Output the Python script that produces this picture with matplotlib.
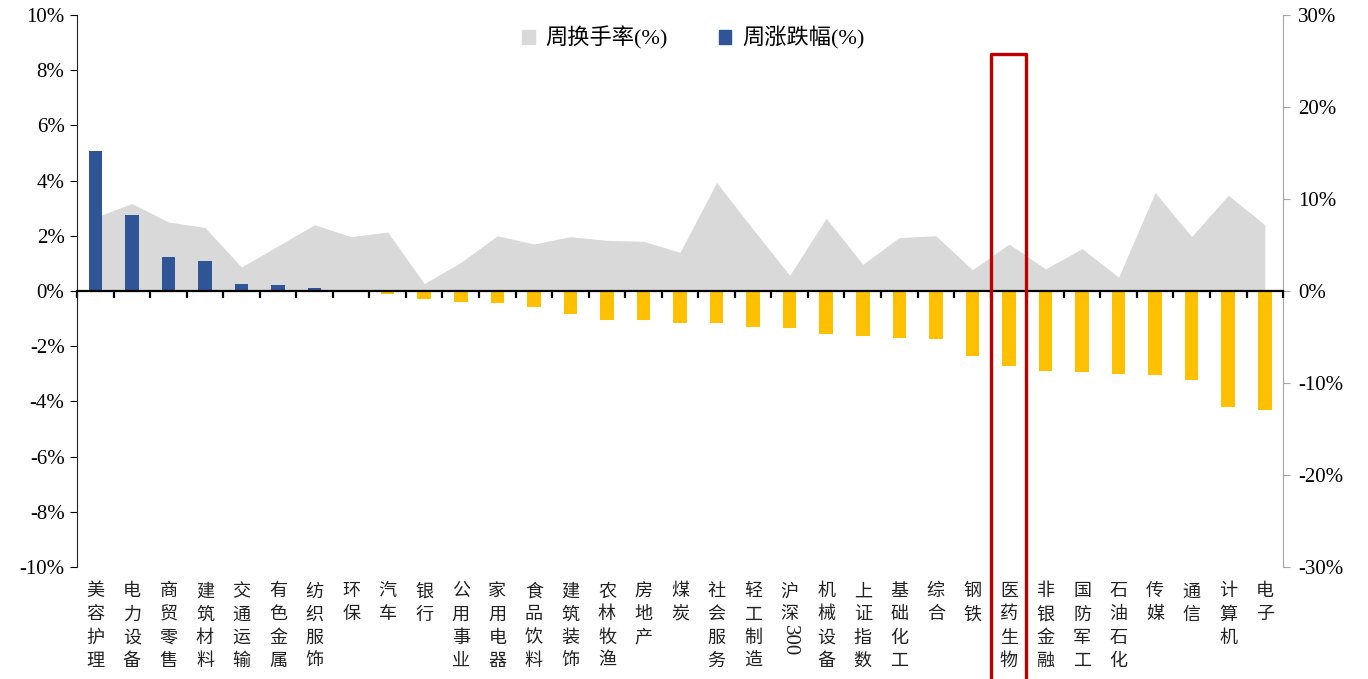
import numpy as np
import matplotlib.pyplot as plt
from matplotlib.patches import Patch, Rectangle
from matplotlib.ticker import FuncFormatter, FixedLocator

plt.rcParams["font.family"] = ["Liberation Serif", "Noto Sans CJK SC"]

# ── Data ────────────────────────────────────────────────────────────────
sectors = ["美容护理", "电力设备", "商贸零售", "建筑材料", "交通运输", "有色金属",
           "纺织服饰", "环保", "汽车", "银行", "公用事业", "家用电器", "食品饮料",
           "建筑装饰", "农林牧渔", "房地产", "煤炭", "社会服务", "轻工制造",
           "沪深300", "机械设备", "上证指数", "基础化工", "综合", "钢铁",
           "医药生物", "非银金融", "国防军工", "石油石化", "传媒", "通信",
           "计算机", "电子"]

# weekly change (%), left axis
weekly_change = [5.07, 2.74, 1.24, 1.09, 0.24, 0.20, 0.12, -0.01, -0.12, -0.30,
                 -0.40, -0.45, -0.58, -0.84, -1.07, -1.07, -1.15, -1.16, -1.30,
                 -1.35, -1.57, -1.62, -1.69, -1.75, -2.37, -2.71, -2.90, -2.95,
                 -3.00, -3.03, -3.21, -4.22, -4.32]

# weekly turnover (%), right axis
weekly_turnover = [8.0, 9.5, 7.5, 6.9, 2.6, 4.9, 7.2, 5.9, 6.4, 0.8, 3.1, 6.0,
                   5.1, 5.9, 5.5, 5.4, 4.2, 11.8, 6.7, 1.7, 7.9, 2.9, 5.8, 6.0,
                   2.3, 5.1, 2.4, 4.6, 1.5, 10.7, 5.9, 10.4, 7.2]

highlight = "医药生物"

C_UP = "#2F5597"
C_DOWN = "#FFC000"
C_AREA = "#D9D9D9"
C_BOX = "#C00000"

x = np.arange(len(sectors))
fig = plt.figure(figsize=(13.68, 6.79), dpi=100)
ax = fig.add_axes([0.0563, 0.165, 0.8816, 0.813])
ax2 = ax.twinx()
ax.set_zorder(ax2.get_zorder() + 1)
ax.patch.set_visible(False)

# ── Turnover area (right axis) ──────────────────────────────────────────
ax2.fill_between(x, 0, weekly_turnover, color=C_AREA, linewidth=0)
ax2.set_ylim(-30, 30)
ax2.set_yticks(np.arange(-30, 31, 10))
ax2.yaxis.set_major_formatter(FuncFormatter(lambda v, p: f"{v:.0f}%"))
ax2.tick_params(axis="y", direction="out", length=5, color="#A6A6A6",
                labelsize=15, pad=6)
for s in ["top", "left", "bottom"]:
    ax2.spines[s].set_visible(False)
ax2.spines["right"].set_color("#A6A6A6")

# ── Weekly change bars (left axis) ──────────────────────────────────────
colors = [C_UP if v >= 0 else C_DOWN for v in weekly_change]
ax.bar(x, weekly_change, width=0.37, color=colors, zorder=3)
ax.set_ylim(-10, 10)
ax.set_xlim(-0.5, len(sectors) - 0.5)
ax.set_yticks(np.arange(-10, 11, 2))
ax.yaxis.set_major_formatter(FuncFormatter(lambda v, p: f"{v:.0f}%"))
ax.tick_params(axis="y", direction="out", length=5, labelsize=15, pad=4)
for s in ["top", "right"]:
    ax.spines[s].set_visible(False)
ax.spines["left"].set_color("#222222")
ax.spines["bottom"].set_position(("data", 0))
ax.spines["bottom"].set_color("#000000")
ax.spines["bottom"].set_linewidth(1.6)
ax.spines["bottom"].set_zorder(4)
ax.set_xticks([])
ax.xaxis.set_minor_locator(FixedLocator(np.arange(-0.5, len(sectors), 1.0)))
ax.tick_params(axis="x", which="minor", direction="out", length=5, width=1.6,
               color="#000000")

# ── Vertical category labels ────────────────────────────────────────────
for xi, name in zip(x, sectors):
    cjk = "".join(ch for ch in name if not ch.isdigit())
    digits = "".join(ch for ch in name if ch.isdigit())
    t = ax.text(xi, -0.028, "\n".join(cjk), transform=ax.get_xaxis_transform(),
                ha="center", va="top", fontsize=13, linespacing=1.36,
                family="Noto Sans CJK SC", color="#222222")
    if digits:
        ax.annotate(digits, xy=(0.5, 0), xycoords=t, xytext=(0, -1),
                    textcoords="offset points", ha="center", va="top",
                    rotation=-90, fontsize=15, color="#222222")

# ── Highlight box ───────────────────────────────────────────────────────
hi = sectors.index(highlight)
ax.add_patch(Rectangle((hi - 0.48, -14.2), 0.96, 22.8, fill=False,
                       edgecolor=C_BOX, linewidth=2.4, joinstyle="round",
                       clip_on=False, zorder=10))

# ── Legend ──────────────────────────────────────────────────────────────
handles = [Patch(color=C_AREA, label="周换手率(%)"),
           Patch(color=C_UP, label="周涨跌幅(%)")]
fig.legend(handles=handles, loc="center", bbox_to_anchor=(0.507, 0.944),
           ncol=2, frameon=False, handlelength=0.55,
           handleheight=0.55, handletextpad=0.5, columnspacing=2.3,
           prop={"family": ["Liberation Serif", "Noto Sans CJK SC"], "size": 16})

fig.savefig("out.png", dpi=100)
